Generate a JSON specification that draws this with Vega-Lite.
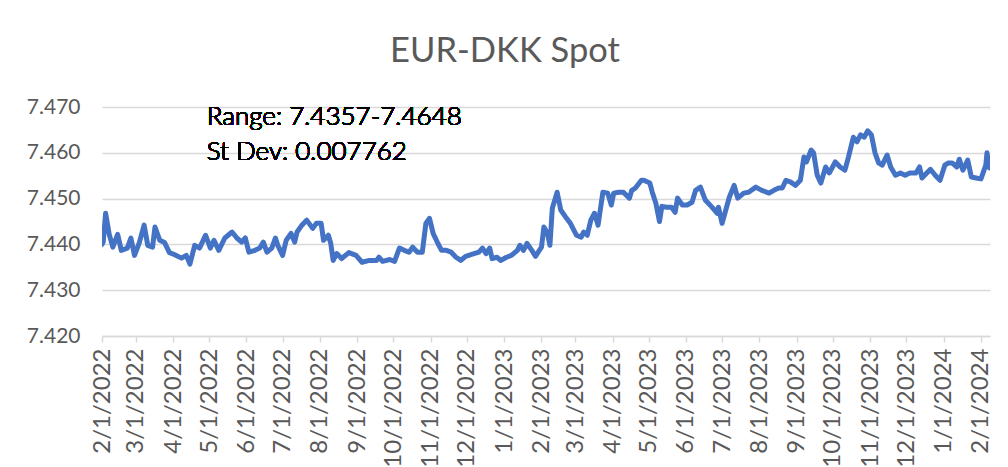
{
  "$schema": "https://vega.github.io/schema/vega-lite/v6.json",
  "width": 888,
  "height": 229,
  "autosize": "none",
  "padding": {"left": 102, "top": 107, "right": 18, "bottom": 131},
  "background": "white",
  "config": {
    "view": {"stroke": null},
    "font": "Lato",
    "axis": {"labelFont": "Lato", "labelColor": "#595959", "labelFontSize": 21, "domainColor": "#d9d9d9", "tickColor": "#d9d9d9", "gridColor": "#d9d9d9"},
    "axisX": {
      "title": null,
      "values": [
        {"year": 2022, "month": 2, "date": 1, "utc": true},
        {"year": 2022, "month": 3, "date": 1, "utc": true},
        {"year": 2022, "month": 4, "date": 1, "utc": true},
        {"year": 2022, "month": 5, "date": 1, "utc": true},
        {"year": 2022, "month": 6, "date": 1, "utc": true},
        {"year": 2022, "month": 7, "date": 1, "utc": true},
        {"year": 2022, "month": 8, "date": 1, "utc": true},
        {"year": 2022, "month": 9, "date": 1, "utc": true},
        {"year": 2022, "month": 10, "date": 1, "utc": true},
        {"year": 2022, "month": 11, "date": 1, "utc": true},
        {"year": 2022, "month": 12, "date": 1, "utc": true},
        {"year": 2023, "month": 1, "date": 1, "utc": true},
        {"year": 2023, "month": 2, "date": 1, "utc": true},
        {"year": 2023, "month": 3, "date": 1, "utc": true},
        {"year": 2023, "month": 4, "date": 1, "utc": true},
        {"year": 2023, "month": 5, "date": 1, "utc": true},
        {"year": 2023, "month": 6, "date": 1, "utc": true},
        {"year": 2023, "month": 7, "date": 1, "utc": true},
        {"year": 2023, "month": 8, "date": 1, "utc": true},
        {"year": 2023, "month": 9, "date": 1, "utc": true},
        {"year": 2023, "month": 10, "date": 1, "utc": true},
        {"year": 2023, "month": 11, "date": 1, "utc": true},
        {"year": 2023, "month": 12, "date": 1, "utc": true},
        {"year": 2024, "month": 1, "date": 1, "utc": true},
        {"year": 2024, "month": 2, "date": 1, "utc": true}
      ],
      "format": "%-m/%-d/%Y",
      "formatType": "utc",
      "labelFontSize": 24,
      "labelAngle": -90,
      "labelAlign": "right",
      "labelBaseline": "middle",
      "labelPadding": 6,
      "tickSize": 6,
      "tickWidth": 1.5,
      "domainWidth": 1.5,
      "grid": false,
      "labelOverlap": false,
      "labelFlush": false
    },
    "axisY": {
      "title": null,
      "values": [7.42, 7.43, 7.44, 7.45, 7.46, 7.47],
      "format": ".3f",
      "domain": false,
      "ticks": false,
      "grid": true,
      "gridWidth": 1.5,
      "labelPadding": 22
    }
  },
  "title": {
    "text": "EUR-DKK Spot",
    "font": "Lato",
    "fontSize": 34.5,
    "fontWeight": "normal",
    "color": "#595959",
    "anchor": "middle",
    "dx": -41,
    "offset": 27
  },
  "data": {
    "values": [
      {"date": "2022-02-01", "rate": 7.4400},
      {"date": "2022-02-02", "rate": 7.4405},
      {"date": "2022-02-04", "rate": 7.4468},
      {"date": "2022-02-07", "rate": 7.4422},
      {"date": "2022-02-10", "rate": 7.4394},
      {"date": "2022-02-14", "rate": 7.4422},
      {"date": "2022-02-17", "rate": 7.4387},
      {"date": "2022-02-22", "rate": 7.4392},
      {"date": "2022-02-25", "rate": 7.4414},
      {"date": "2022-02-28", "rate": 7.4376},
      {"date": "2022-03-04", "rate": 7.4404},
      {"date": "2022-03-08", "rate": 7.4442},
      {"date": "2022-03-11", "rate": 7.4398},
      {"date": "2022-03-15", "rate": 7.4394},
      {"date": "2022-03-17", "rate": 7.4438},
      {"date": "2022-03-21", "rate": 7.4409},
      {"date": "2022-03-25", "rate": 7.4404},
      {"date": "2022-03-29", "rate": 7.4382},
      {"date": "2022-04-02", "rate": 7.4378},
      {"date": "2022-04-08", "rate": 7.4370},
      {"date": "2022-04-12", "rate": 7.4376},
      {"date": "2022-04-15", "rate": 7.4357},
      {"date": "2022-04-19", "rate": 7.4398},
      {"date": "2022-04-23", "rate": 7.4392},
      {"date": "2022-04-28", "rate": 7.4420},
      {"date": "2022-05-02", "rate": 7.4392},
      {"date": "2022-05-05", "rate": 7.4409},
      {"date": "2022-05-09", "rate": 7.4387},
      {"date": "2022-05-14", "rate": 7.4414},
      {"date": "2022-05-20", "rate": 7.4427},
      {"date": "2022-05-24", "rate": 7.4414},
      {"date": "2022-05-28", "rate": 7.4405},
      {"date": "2022-05-31", "rate": 7.4414},
      {"date": "2022-06-03", "rate": 7.4383},
      {"date": "2022-06-08", "rate": 7.4387},
      {"date": "2022-06-12", "rate": 7.4392},
      {"date": "2022-06-15", "rate": 7.4405},
      {"date": "2022-06-18", "rate": 7.4383},
      {"date": "2022-06-22", "rate": 7.4392},
      {"date": "2022-06-25", "rate": 7.4414},
      {"date": "2022-06-27", "rate": 7.4398},
      {"date": "2022-07-01", "rate": 7.4376},
      {"date": "2022-07-04", "rate": 7.4409},
      {"date": "2022-07-08", "rate": 7.4424},
      {"date": "2022-07-11", "rate": 7.4405},
      {"date": "2022-07-13", "rate": 7.4427},
      {"date": "2022-07-17", "rate": 7.4442},
      {"date": "2022-07-21", "rate": 7.4453},
      {"date": "2022-07-26", "rate": 7.4435},
      {"date": "2022-07-29", "rate": 7.4446},
      {"date": "2022-08-02", "rate": 7.4446},
      {"date": "2022-08-04", "rate": 7.4409},
      {"date": "2022-08-08", "rate": 7.4420},
      {"date": "2022-08-10", "rate": 7.4402},
      {"date": "2022-08-12", "rate": 7.4365},
      {"date": "2022-08-15", "rate": 7.4380},
      {"date": "2022-08-19", "rate": 7.4369},
      {"date": "2022-08-25", "rate": 7.4382},
      {"date": "2022-08-31", "rate": 7.4376},
      {"date": "2022-09-05", "rate": 7.4361},
      {"date": "2022-09-11", "rate": 7.4365},
      {"date": "2022-09-17", "rate": 7.4365},
      {"date": "2022-09-19", "rate": 7.4372},
      {"date": "2022-09-22", "rate": 7.4363},
      {"date": "2022-09-28", "rate": 7.4367},
      {"date": "2022-10-02", "rate": 7.4363},
      {"date": "2022-10-06", "rate": 7.4392},
      {"date": "2022-10-10", "rate": 7.4387},
      {"date": "2022-10-14", "rate": 7.4383},
      {"date": "2022-10-17", "rate": 7.4394},
      {"date": "2022-10-21", "rate": 7.4383},
      {"date": "2022-10-25", "rate": 7.4383},
      {"date": "2022-10-28", "rate": 7.4446},
      {"date": "2022-10-31", "rate": 7.4457},
      {"date": "2022-11-03", "rate": 7.4424},
      {"date": "2022-11-07", "rate": 7.4402},
      {"date": "2022-11-10", "rate": 7.4387},
      {"date": "2022-11-14", "rate": 7.4387},
      {"date": "2022-11-18", "rate": 7.4383},
      {"date": "2022-11-22", "rate": 7.4372},
      {"date": "2022-11-26", "rate": 7.4365},
      {"date": "2022-11-30", "rate": 7.4374},
      {"date": "2022-12-05", "rate": 7.4378},
      {"date": "2022-12-11", "rate": 7.4383},
      {"date": "2022-12-14", "rate": 7.4392},
      {"date": "2022-12-17", "rate": 7.4380},
      {"date": "2022-12-20", "rate": 7.4392},
      {"date": "2022-12-22", "rate": 7.4369},
      {"date": "2022-12-26", "rate": 7.4372},
      {"date": "2022-12-29", "rate": 7.4365},
      {"date": "2023-01-03", "rate": 7.4372},
      {"date": "2023-01-07", "rate": 7.4376},
      {"date": "2023-01-12", "rate": 7.4387},
      {"date": "2023-01-14", "rate": 7.4398},
      {"date": "2023-01-17", "rate": 7.4387},
      {"date": "2023-01-20", "rate": 7.4402},
      {"date": "2023-01-24", "rate": 7.4387},
      {"date": "2023-01-27", "rate": 7.4374},
      {"date": "2023-02-01", "rate": 7.4394},
      {"date": "2023-02-03", "rate": 7.4438},
      {"date": "2023-02-06", "rate": 7.4424},
      {"date": "2023-02-08", "rate": 7.4398},
      {"date": "2023-02-10", "rate": 7.4479},
      {"date": "2023-02-14", "rate": 7.4514},
      {"date": "2023-02-17", "rate": 7.4475},
      {"date": "2023-02-21", "rate": 7.4460},
      {"date": "2023-02-25", "rate": 7.4446},
      {"date": "2023-03-02", "rate": 7.4420},
      {"date": "2023-03-06", "rate": 7.4416},
      {"date": "2023-03-08", "rate": 7.4427},
      {"date": "2023-03-11", "rate": 7.4420},
      {"date": "2023-03-14", "rate": 7.4453},
      {"date": "2023-03-17", "rate": 7.4468},
      {"date": "2023-03-20", "rate": 7.4442},
      {"date": "2023-03-24", "rate": 7.4514},
      {"date": "2023-03-28", "rate": 7.4512},
      {"date": "2023-03-31", "rate": 7.4486},
      {"date": "2023-04-02", "rate": 7.4512},
      {"date": "2023-04-06", "rate": 7.4514},
      {"date": "2023-04-10", "rate": 7.4514},
      {"date": "2023-04-15", "rate": 7.4501},
      {"date": "2023-04-17", "rate": 7.4518},
      {"date": "2023-04-20", "rate": 7.4523},
      {"date": "2023-04-25", "rate": 7.4540},
      {"date": "2023-04-27", "rate": 7.4540},
      {"date": "2023-05-02", "rate": 7.4534},
      {"date": "2023-05-04", "rate": 7.4514},
      {"date": "2023-05-07", "rate": 7.4490},
      {"date": "2023-05-10", "rate": 7.4450},
      {"date": "2023-05-12", "rate": 7.4483},
      {"date": "2023-05-16", "rate": 7.4481},
      {"date": "2023-05-20", "rate": 7.4481},
      {"date": "2023-05-23", "rate": 7.4470},
      {"date": "2023-05-25", "rate": 7.4501},
      {"date": "2023-05-29", "rate": 7.4486},
      {"date": "2023-06-02", "rate": 7.4486},
      {"date": "2023-06-06", "rate": 7.4492},
      {"date": "2023-06-09", "rate": 7.4518},
      {"date": "2023-06-13", "rate": 7.4525},
      {"date": "2023-06-17", "rate": 7.4497},
      {"date": "2023-06-22", "rate": 7.4483},
      {"date": "2023-06-27", "rate": 7.4468},
      {"date": "2023-06-28", "rate": 7.4481},
      {"date": "2023-07-01", "rate": 7.4446},
      {"date": "2023-07-07", "rate": 7.4503},
      {"date": "2023-07-11", "rate": 7.4529},
      {"date": "2023-07-14", "rate": 7.4501},
      {"date": "2023-07-19", "rate": 7.4512},
      {"date": "2023-07-23", "rate": 7.4514},
      {"date": "2023-07-29", "rate": 7.4525},
      {"date": "2023-08-03", "rate": 7.4518},
      {"date": "2023-08-09", "rate": 7.4512},
      {"date": "2023-08-13", "rate": 7.4518},
      {"date": "2023-08-17", "rate": 7.4523},
      {"date": "2023-08-20", "rate": 7.4523},
      {"date": "2023-08-23", "rate": 7.4540},
      {"date": "2023-08-27", "rate": 7.4536},
      {"date": "2023-08-31", "rate": 7.4529},
      {"date": "2023-09-04", "rate": 7.4540},
      {"date": "2023-09-07", "rate": 7.4591},
      {"date": "2023-09-09", "rate": 7.4580},
      {"date": "2023-09-13", "rate": 7.4606},
      {"date": "2023-09-15", "rate": 7.4600},
      {"date": "2023-09-18", "rate": 7.4551},
      {"date": "2023-09-21", "rate": 7.4534},
      {"date": "2023-09-25", "rate": 7.4569},
      {"date": "2023-09-28", "rate": 7.4556},
      {"date": "2023-10-03", "rate": 7.4580},
      {"date": "2023-10-07", "rate": 7.4569},
      {"date": "2023-10-11", "rate": 7.4562},
      {"date": "2023-10-14", "rate": 7.4591},
      {"date": "2023-10-18", "rate": 7.4634},
      {"date": "2023-10-21", "rate": 7.4624},
      {"date": "2023-10-24", "rate": 7.4639},
      {"date": "2023-10-27", "rate": 7.4634},
      {"date": "2023-10-30", "rate": 7.4648},
      {"date": "2023-11-02", "rate": 7.4639},
      {"date": "2023-11-05", "rate": 7.4600},
      {"date": "2023-11-08", "rate": 7.4578},
      {"date": "2023-11-11", "rate": 7.4573},
      {"date": "2023-11-15", "rate": 7.4595},
      {"date": "2023-11-18", "rate": 7.4569},
      {"date": "2023-11-22", "rate": 7.4551},
      {"date": "2023-11-26", "rate": 7.4556},
      {"date": "2023-11-30", "rate": 7.4551},
      {"date": "2023-12-04", "rate": 7.4556},
      {"date": "2023-12-09", "rate": 7.4556},
      {"date": "2023-12-12", "rate": 7.4569},
      {"date": "2023-12-14", "rate": 7.4545},
      {"date": "2023-12-18", "rate": 7.4556},
      {"date": "2023-12-21", "rate": 7.4564},
      {"date": "2023-12-25", "rate": 7.4551},
      {"date": "2023-12-29", "rate": 7.4540},
      {"date": "2024-01-02", "rate": 7.4573},
      {"date": "2024-01-05", "rate": 7.4578},
      {"date": "2024-01-08", "rate": 7.4578},
      {"date": "2024-01-12", "rate": 7.4569},
      {"date": "2024-01-14", "rate": 7.4586},
      {"date": "2024-01-17", "rate": 7.4562},
      {"date": "2024-01-21", "rate": 7.4584},
      {"date": "2024-01-24", "rate": 7.4547},
      {"date": "2024-01-28", "rate": 7.4545},
      {"date": "2024-02-01", "rate": 7.4543},
      {"date": "2024-02-05", "rate": 7.4573},
      {"date": "2024-02-06", "rate": 7.4600},
      {"date": "2024-02-08", "rate": 7.4567}
    ]
  },
  "layer": [
    {
      "mark": {"type": "line", "color": "#4472C4", "strokeWidth": 5, "strokeJoin": "round", "strokeCap": "round", "clip": true},
      "encoding": {
        "x": {
          "field": "date",
          "type": "temporal",
          "scale": {"type": "utc", "domain": [{"year": 2022, "month": 2, "date": 1, "utc": true}, {"year": 2024, "month": 2, "date": 8, "hours": 12, "utc": true}], "nice": false}
        },
        "y": {
          "field": "rate",
          "type": "quantitative",
          "scale": {"domain": [7.42, 7.47], "nice": false, "zero": false}
        }
      }
    },
    {
      "mark": {"type": "text", "text": ["Range: 7.4357-7.4648", "St Dev:  0.007762"], "font": "Lato", "fontSize": 26, "fontWeight": 300, "fill": "#000000", "align": "left", "baseline": "middle", "lineHeight": 35},
      "encoding": {
        "x": {"datum": {"year": 2022, "month": 4, "date": 29, "utc": true}, "type": "temporal"},
        "y": {"datum": 7.4678, "type": "quantitative"}
      }
    }
  ]
}
